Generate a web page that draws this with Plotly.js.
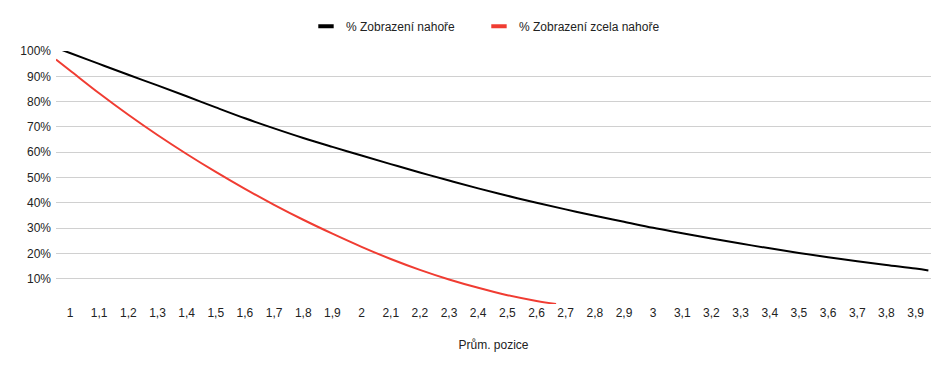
<!DOCTYPE html>
<html>
<head>
<meta charset="utf-8">
<script src="https://cdn.plot.ly/plotly-3.0.1.min.js"></script>
<style>html,body{margin:0;padding:0;background:#fff;}#chart{width:950px;height:371px;}</style>
</head>
<body>
<div id="chart"></div>
<script>
// X-axis tick positions and labels (Czech decimal comma)
const tickVals = [1,1.1,1.2,1.3,1.4,1.5,1.6,1.7,1.8,1.9,2,2.1,2.2,2.3,2.4,2.5,2.6,2.7,2.8,2.9,3,3.1,3.2,3.3,3.4,3.5,3.6,3.7,3.8,3.9];
const tickText = ['1','1,1','1,2','1,3','1,4','1,5','1,6','1,7','1,8','1,9','2','2,1','2,2','2,3','2,4','2,5','2,6','2,7','2,8','2,9','3','3,1','3,2','3,3','3,4','3,5','3,6','3,7','3,8','3,9'];

// Series: % Zobrazení nahoře (black)
const xBlack = [0.952,1,1.1,1.2,1.3,1.4,1.5,1.6,1.7,1.8,1.9,2,2.1,2.2,2.3,2.4,2.5,2.6,2.7,2.8,2.9,3,3.1,3.2,3.3,3.4,3.5,3.6,3.7,3.8,3.9,3.944];
const yBlack = [101.3,99.2,94.9,90.6,86.4,82.1,77.7,73.4,69.4,65.6,62.1,58.7,55.3,52.0,48.8,45.7,42.8,40.0,37.4,34.9,32.5,30.1,28.0,25.9,23.9,22.0,20.2,18.5,16.9,15.4,14.0,13.2];

// Series: % Zobrazení zcela nahoře (red)
const xRed = [0.952,1,1.1,1.2,1.3,1.4,1.5,1.6,1.7,1.8,1.9,2,2.1,2.2,2.3,2.4,2.5,2.6,2.667];
const yRed = [96.6,92.3,83.3,74.8,66.8,59.3,52.2,45.5,39.2,33.3,27.8,22.6,17.8,13.5,9.7,6.4,3.5,1.2,0];

// Y-axis ticks
const yTickVals = [10,20,30,40,50,60,70,80,90,100];
const yTickText = ['10%','20%','30%','40%','50%','60%','70%','80%','90%','100%'];

const seriesNames = ['% Zobrazení nahoře','% Zobrazení zcela nahoře'];
const colors = ['#000000','#f03c32'];

const traces = [
  {x: xBlack, y: yBlack, mode: 'lines', line: {color: colors[0], width: 2, shape: 'spline'}, showlegend: false, hoverinfo: 'skip'},
  {x: xRed, y: yRed, mode: 'lines', line: {color: colors[1], width: 2, shape: 'spline'}, showlegend: false, hoverinfo: 'skip'},
  {x: [null], y: [null], name: seriesNames[0], legend: 'legend', mode: 'markers', marker: {symbol: 'line-ew', size: 11, color: colors[0], line: {width: 4, color: colors[0]}}},
  {x: [null], y: [null], name: seriesNames[1], legend: 'legend2', mode: 'markers', marker: {symbol: 'line-ew', size: 11, color: colors[1], line: {width: 4, color: colors[1]}}}
];

const legendBase = {orientation: 'h', xanchor: 'left', y: 1.098, yanchor: 'middle', itemwidth: 30, font: {size: 12, color: '#222222'}, bgcolor: 'rgba(0,0,0,0)'};

const layout = {
  width: 950, height: 371,
  margin: {l: 56, r: 19, t: 49, b: 67},
  paper_bgcolor: '#ffffff', plot_bgcolor: '#ffffff',
  font: {family: '"Liberation Sans", Arial, sans-serif', size: 12, color: '#222222'},
  showlegend: true,
  legend: Object.assign({}, legendBase, {x: 0.2857}),
  legend2: Object.assign({}, legendBase, {x: 0.4834}),
  xaxis: {
    range: [0.952, 3.953], tickmode: 'array', tickvals: tickVals, ticktext: tickText,
    showgrid: false, zeroline: false, showline: false, ticks: '',
    tickfont: {size: 12, color: '#222222'},
    title: {text: 'Prům. pozice', font: {size: 12, color: '#222222'}, standoff: 21}
  },
  yaxis: {
    range: [0, 100], tickmode: 'array', tickvals: yTickVals, ticktext: yTickText,
    showgrid: true, gridcolor: '#d0d0d0', gridwidth: 1, zeroline: false, showline: false, ticks: '',
    tickfont: {size: 12, color: '#222222'}, ticklabelstandoff: 4
  }
};

Plotly.newPlot('chart', traces, layout, {staticPlot: true, displayModeBar: false});
</script>
</body>
</html>
